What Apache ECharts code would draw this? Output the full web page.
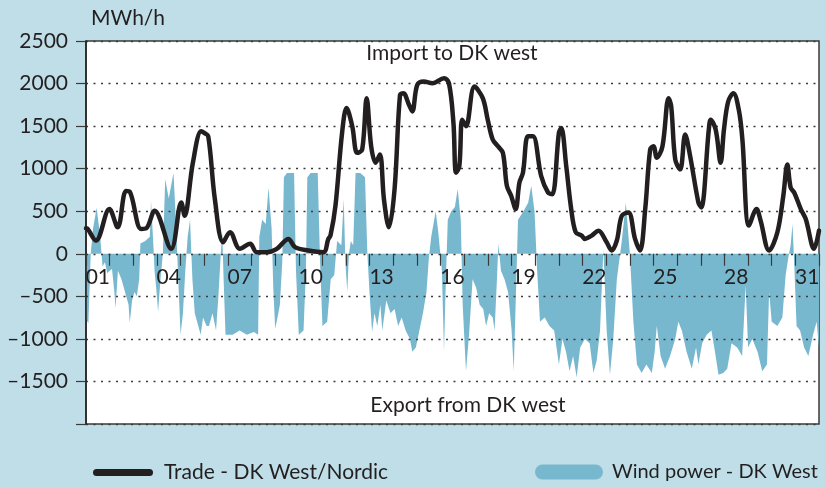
<!DOCTYPE html>
<html>
<head>
<meta charset="utf-8">
<script src="https://cdn.jsdelivr.net/npm/echarts@6/dist/echarts.min.js"></script>
<style>
  html, body { margin: 0; padding: 0; background: #bfdee7; }
  #chart { width: 825px; height: 488px; }
</style>
</head>
<body>
<div id="chart"></div>
<script>
// 日期标签（每天一格）
const dayLabels = ['01', '02', '03', '04', '05', '06', '07', '08', '09', '10', '11', '12', '13', '14', '15', '16',
    '17', '18', '19', '20', '21', '22', '23', '24', '25', '26', '27', '28', '29', '30', '31'];

// 贸易 DK West/Nordic：时间（天）与数值
const tradeDays = [0, 0.07, 0.42, 0.99, 1.34, 1.69, 1.85, 2.33, 2.55, 2.9, 3.6, 4.03, 4.17, 4.52, 4.87, 5.0, 5.17,
    5.45, 5.8, 6.09, 6.51, 6.94, 7.22, 7.65, 8.07, 8.56, 8.84, 9.41, 10.04, 10.25, 10.34, 10.55, 10.83, 11.02,
    11.26, 11.47, 11.68, 11.87, 12.06, 12.25, 12.43, 12.6, 12.81, 13.05, 13.28, 13.42, 13.66, 13.8, 14.01, 14.29,
    14.65, 15.14, 15.35, 15.54, 15.65, 15.79, 15.91, 16.07, 16.43, 16.78, 16.99, 17.2, 17.42, 17.63, 17.8, 17.98,
    18.17, 18.33, 18.48, 18.69, 18.9, 19.25, 19.54, 19.72, 20.0, 20.1, 20.31, 20.52, 20.71, 20.96, 21.1, 21.39,
    21.67, 22.02, 22.23, 22.45, 22.66, 22.94, 23.22, 23.43, 23.65, 23.86, 24.0, 24.14, 24.38, 24.64, 24.75, 24.92,
    25.13, 25.34, 25.55, 25.9, 26.02, 26.34, 26.42, 26.63, 26.84, 26.98, 27.16, 27.38, 27.62, 27.76, 28.04, 28.36,
    28.53, 28.89, 29.24, 29.49, 29.66, 29.8, 29.95, 30.23, 30.44, 30.79, 31];
const tradeValues = [300, 292, 156, 525, 311, 739, 730, 292, 300, 506, 58, 603, 447, 1070, 1440, 1420, 1381,
    642, 136, 253, 58, 117, 19, 19, 58, 175, 78, 39, 19, 175, 214, 564, 1420, 1712,
    1498, 1186, 1225, 1828, 1264, 1070, 1167, 642, 311, 759, 1867, 1887, 1750, 1673, 1984, 2023,
    2003, 2062, 2003, 1537, 953, 1031, 1575, 1498, 1964, 1828, 1575, 1342, 1264, 1186, 797, 681,
    525, 836, 953, 1381, 1381, 914, 720, 700, 1420, 1478, 1031, 525, 253, 214, 175, 214,
    272, 136, 39, 156, 447, 486, 175, 39, 525, 1225, 1264, 1128, 1264, 1828, 1731, 1108,
    992, 1400, 1148, 603, 545, 1459, 1575, 1459, 1070, 1459, 1789, 1887, 1673, 1342, 331, 525,
    389, 39, 253, 681, 1050, 778, 720, 525, 408, 58, 272];

// 风电 DK West：时间（天）与数值
const windDays = [0, 0.1, 0.2, 0.3, 0.45, 0.6, 0.7, 0.8, 0.9, 1.0, 1.1, 1.2, 1.25, 1.35, 1.5, 1.65, 1.8, 1.85, 1.95,
    2.05, 2.15, 2.25, 2.3, 2.5, 2.7, 2.75, 2.85, 2.9, 3.0, 3.05, 3.15, 3.25, 3.35, 3.5, 3.7, 3.8, 3.9, 4.0, 4.1,
    4.2, 4.3, 4.4, 4.5, 4.6, 4.7, 4.85, 4.95, 5.1, 5.2, 5.35, 5.5, 5.6, 5.7, 5.76, 5.82, 5.9, 6.2, 6.5, 6.8, 7.1,
    7.28, 7.33, 7.45, 7.6, 7.72, 7.85, 7.92, 8.0, 8.1, 8.2, 8.3, 8.37, 8.5, 8.8, 8.88, 9.0, 9.2, 9.3, 9.36, 9.5,
    9.8, 9.9, 10.0, 10.2, 10.35, 10.5, 10.62, 10.8, 10.9, 10.97, 11.05, 11.12, 11.2, 11.3, 11.4, 11.6, 11.8, 11.9,
    12.0, 12.1, 12.2, 12.32, 12.45, 12.53, 12.7, 12.88, 13.05, 13.2, 13.35, 13.52, 13.7, 13.8, 13.95, 14.1, 14.25,
    14.4, 14.5, 14.6, 14.79, 14.9, 15.05, 15.14, 15.22, 15.3, 15.45, 15.6, 15.72, 15.85, 15.93, 16.07, 16.2, 16.35,
    16.5, 16.65, 16.8, 16.92, 17.05, 17.2, 17.28, 17.38, 17.44, 17.55, 17.7, 17.85, 18.0, 18.09, 18.18, 18.27,
    18.5, 18.7, 18.83, 18.97, 19.08, 19.2, 19.4, 19.6, 19.8, 20.0, 20.15, 20.3, 20.45, 20.6, 20.75, 20.9, 21.1,
    21.3, 21.46, 21.6, 21.74, 21.88, 22.02, 22.16, 22.3, 22.45, 22.66, 22.83, 23.0, 23.15, 23.3, 23.5, 23.7,
    23.93, 24.05, 24.14, 24.3, 24.49, 24.7, 24.92, 25.05, 25.2, 25.4, 25.62, 25.8, 25.9, 26.06, 26.25, 26.45,
    26.6, 26.75, 26.95, 27.12, 27.3, 27.54, 27.75, 27.9, 28.0, 28.18, 28.4, 28.6, 28.8, 28.89, 29.0, 29.24,
    29.45, 29.59, 29.7, 29.8, 29.88, 29.95, 30.05, 30.2, 30.37, 30.55, 30.75, 30.9, 31];
const windValues = [-760, -820, 0, 300, 540, 200, -150, -100, -230, -200, -180, -450, -640, -200, -300, -450, -600, -810, -550,
    -450, -500, -300, 120, 150, 200, 620, 100, -200, -500, -680, -300, 0, 880, 650, 950, 400, -300, -950, -700,
    -200, 200, 400, -300, -700, -800, -950, -750, -850, -850, -700, -900, -500, 0, 250, -300, -950, -950, -900, -950, -920,
    -950, 200, 400, 350, 780, 300, -400, -880, -750, -600, -100, 900, 950, 950, -200, -950, -900, -200, 900, 950,
    950, -100, -850, -800, -300, -250, 150, 100, 640, -100, -450, 0, 150, 100, 950, 950, 900, 0,
    -500, -920, -700, -850, -600, -900, -550, -700, -650, -850, -750, -900, -1000, -1150, -1100, -900, -700,
    -450, -50, 200, 500, 250, -200, -1150, -300, 400, 500, 550, 760, 400, -600, -1380, -950, -300,
    -400, -600, -650, -850, -700, -750, -900, -300, 120, -200, -300, -450, -900, -1380, -500, 400,
    500, 600, 800, 500, -200, -800, -750, -850, -900, -1300, -1000, -1150, -1380, -1200, -1450, -1100, -1000,
    -1050, -1400, -1250, -900, 50, -900, -1420, -1000, -300, 150, 600, 0, -800, -1300, -1400, -1300,
    -1400, -1150, -850, -1200, -1350, -1200, -1000, -800, -900, -1150, -1350, -1100, -1300, -1050, -950, -900,
    -1150, -1420, -1400, -1350, -1050, -1100, -1200, -370, -1100, -1000, -1150, -1380, -1300, -450, -800, -850,
    -750, -250, -50, 100, 350, -100, -850, -900, -1100, -1200, -950, -800, -1100];

// 颜色配置
const colors = {
    background: '#bfdee7',
    text: '#231f20',
    trade: '#231f20',
    wind: '#78b8cf',
    grid: '#3a3a3a'
};

const fontFamily = 'Lato';

// 绘图区尺寸
const gridTop = 41;
const gridBottom = 64;
const gridHeight = 488 - gridTop - gridBottom;
const yMin = -2000;
const yMax = 2500;
// 零线距底边的距离，用于把日期轴放到零线上
const zeroOffset = gridHeight * (0 - yMin) / (yMax - yMin);

const chart = echarts.init(document.getElementById('chart'));

const option = {
    backgroundColor: colors.background,
    textStyle: { fontFamily: fontFamily, color: colors.text },
    animation: false,
    title: {
        text: 'MWh/h',
        left: 86,
        top: 3,
        textStyle: { fontSize: 21, fontWeight: 'normal', color: colors.text, fontFamily: fontFamily }
    },
    legend: [
        {
            data: ['Trade - DK West/Nordic'],
            left: 88,
            top: 457,
            itemWidth: 60,
            itemHeight: 7,
            icon: 'path://M3.5,0 H56.5 A3.5,3.5 0 0 1 56.5,7 H3.5 A3.5,3.5 0 0 1 3.5,0 Z',
            textStyle: { fontSize: 21, color: colors.text, padding: [0, 0, 0, 6] }
        },
        {
            data: ['Wind power - DK West'],
            left: 530,
            top: 457,
            itemWidth: 68,
            itemHeight: 15,
            icon: 'path://M7.5,0 H60.5 A7.5,7.5 0 0 1 60.5,15 H7.5 A7.5,7.5 0 0 1 7.5,0 Z',
            textStyle: { fontSize: 20, color: colors.text, padding: [0, 0, 0, 4] }
        }
    ],
    grid: {
        left: 86,
        right: 6,
        top: gridTop,
        bottom: gridBottom,
        show: true,
        backgroundColor: '#ffffff',
        borderColor: colors.grid,
        borderWidth: 1.5
    },
    xAxis: [
        {
            // 日期标签轴（零线上）
            type: 'category',
            data: dayLabels,
            boundaryGap: true,
            position: 'bottom',
            offset: -zeroOffset,
            z: 4,
            axisLine: { show: false, onZero: false },
            axisTick: {
                show: true,
                interval: 0,
                length: 12,
                lineStyle: { color: colors.grid, width: 1.2 }
            },
            axisLabel: {
                interval: 2,
                margin: 13,
                fontSize: 21,
                color: colors.text
            },
            splitLine: { show: false }
        },
        {
            // 数据轴（按天计）
            type: 'value',
            min: 0,
            max: 31,
            position: 'bottom',
            axisLine: { show: false, onZero: false },
            axisTick: { show: false },
            axisLabel: { show: false },
            splitLine: { show: false }
        }
    ],
    yAxis: {
        type: 'value',
        min: yMin,
        max: yMax,
        interval: 500,
        z: 4,
        axisLine: { show: true, onZero: false, lineStyle: { color: colors.text, width: 1.5 } },
        axisTick: { show: true, length: 10, lineStyle: { color: colors.grid, width: 1.2 } },
        axisLabel: {
            margin: 18,
            fontSize: 21,
            color: colors.text,
            formatter: function (v) {
                if (v === -2000) return '';
                return v < 0 ? '\u2013' + Math.abs(v) : String(v);
            }
        },
        splitLine: {
            show: true,
            lineStyle: { color: colors.grid, width: 1.3, type: [2, 5.5] }
        }
    },
    graphic: [
        {
            type: 'text',
            x: 452,
            y: 43,
            z: 10,
            style: { text: 'Import to DK west', font: '21px ' + fontFamily, fill: colors.text, textAlign: 'center' }
        },
        {
            type: 'text',
            x: 468,
            y: 395,
            z: 10,
            style: { text: 'Export from DK west', font: '21px ' + fontFamily, fill: colors.text, textAlign: 'center' }
        }
    ],
    series: [
        {
            name: 'Wind power - DK West',
            type: 'line',
            xAxisIndex: 1,
            data: windDays.map((d, i) => [d, windValues[i]]),
            showSymbol: false,
            lineStyle: { width: 0, color: colors.wind },
            itemStyle: { color: colors.wind },
            areaStyle: { color: colors.wind, opacity: 1, origin: 0 },
            z: 2
        },
        {
            name: 'Trade - DK West/Nordic',
            type: 'line',
            xAxisIndex: 1,
            data: tradeDays.map((d, i) => [d, tradeValues[i]]),
            showSymbol: false,
            smooth: 0.35,
            lineStyle: { width: 4.5, color: colors.trade, cap: 'round', join: 'round' },
            itemStyle: { color: colors.trade },
            z: 5
        }
    ]
};

chart.setOption(option);
</script>
</body>
</html>
